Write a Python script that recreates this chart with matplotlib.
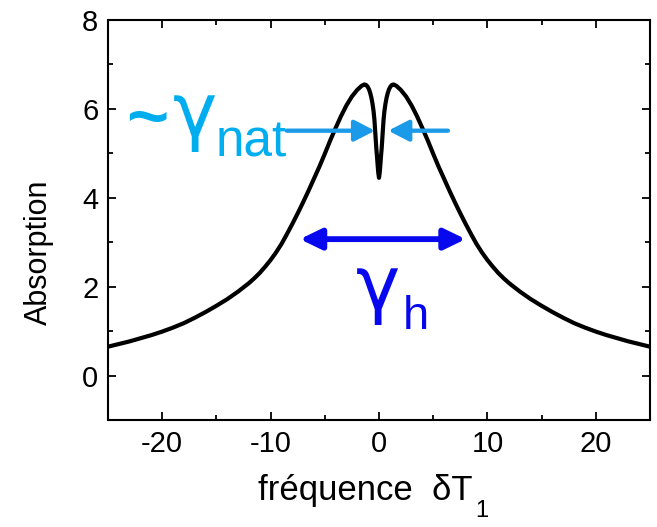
import numpy as np
import matplotlib.pyplot as plt

# Absorption profile (hole burnt at the centre) ────────────────────────────────────
x_right = [0.0, 0.06, 0.12, 0.18, 0.25, 0.33, 0.42, 0.5, 0.6, 0.7, 0.8, 0.92,
           1.05, 1.2, 1.35, 1.6, 2.0, 2.5, 3.0, 3.5, 4.0, 4.5, 5.0, 5.5, 6.0,
           6.5, 7.0, 7.5, 8.0, 8.5, 9.0, 9.5, 10.0, 10.5, 11.0, 11.5, 12.0,
           13.0, 14.0, 15.0, 16.0, 17.0, 18.0, 19.0, 20.0, 21.0, 22.0, 23.0,
           24.0, 25.0]
y_right = [4.45, 4.55, 4.72, 4.92, 5.12, 5.42, 5.75, 5.95, 6.12, 6.25, 6.35,
           6.44, 6.50, 6.54, 6.55, 6.52, 6.43, 6.28, 6.08, 5.84, 5.57, 5.29,
           4.99, 4.70, 4.43, 4.16, 3.90, 3.65, 3.41, 3.18, 2.96, 2.77, 2.60,
           2.45, 2.31, 2.19, 2.08, 1.89, 1.72, 1.57, 1.43, 1.30, 1.18, 1.08,
           0.99, 0.91, 0.84, 0.77, 0.71, 0.65]

freq = [-v for v in x_right[:0:-1]] + x_right
absorption = y_right[:0:-1] + y_right

# arrows (data units)
nat_left = (-8.5, -0.37)
nat_right = (6.36, 0.86)
nat_y = 5.51
h_span = (-7.3, 8.0)
h_y = 3.07

x_ticks = [-20, -10, 0, 10, 20]
y_ticks = [0, 2, 4, 6, 8]

c_light = "#00aeef"
c_light_arrow = "#1a9ae8"
c_blue = "#0808ee"

plt.rcParams["font.family"] = ["Liberation Sans", "DejaVu Sans"]
plt.rcParams["axes.unicode_minus"] = False

fig = plt.figure(figsize=(6.57, 5.27), dpi=100)
ax = fig.add_axes([0.1644, 0.2030, 0.8249, 0.7590])

ax.plot(freq, absorption, color="black", lw=3.0, solid_joinstyle="round")

ax.set_xlim(-25, 25)
ax.set_ylim(-1, 8)
ax.set_xticks(x_ticks)
ax.set_yticks(y_ticks)
ax.set_xticks([-15, -5, 5, 15], minor=True)
ax.set_yticks([-1, 1, 3, 5, 7], minor=True)
ax.tick_params(which="both", direction="in", top=True, right=True,
               width=1.3, labelsize=21)
ax.tick_params(which="major", length=6, pad=7)
ax.tick_params(which="minor", length=3.5)
for s in ax.spines.values():
    s.set_linewidth(1.5)

ax.set_ylabel("Absorption", fontsize=22)
ax.yaxis.set_label_coords(-0.10, 0.42)
ax.set_xlabel("fréquence  δT", fontsize=25)
ax.xaxis.set_label_coords(0.474, -0.135)
ax.annotate("1", xy=(1.0, 0.0), xycoords=ax.xaxis.label,
            xytext=(2, 5), textcoords="offset points",
            ha="left", va="top", fontsize=17)

# ~γnat label and arrows
ax.text(-23.3, 5.30, "~", color=c_light, fontsize=52, fontweight="bold",
        ha="left", va="baseline")
ax.text(-19.0, 5.40, "γ", color=c_light, fontsize=54, family=["DejaVu Sans"],
        ha="left", va="baseline")
ax.text(-15.1, 4.94, "nat", color=c_light, fontsize=37, ha="left", va="baseline")

style = "-|>,head_length=0.62,head_width=0.32"
ax.annotate("", xy=(nat_left[1], nat_y), xytext=(nat_left[0], nat_y),
            arrowprops=dict(arrowstyle=style, color=c_light_arrow, lw=3.1,
                            mutation_scale=20, shrinkA=0, shrinkB=0))
ax.annotate("", xy=(nat_right[1], nat_y), xytext=(nat_right[0], nat_y),
            arrowprops=dict(arrowstyle=style, color=c_light_arrow, lw=3.1,
                            mutation_scale=20, shrinkA=0, shrinkB=0))

# γh label and double arrow
ax.annotate("", xy=(h_span[1], h_y), xytext=(h_span[0], h_y),
            arrowprops=dict(arrowstyle="<|-|>,head_length=0.64,head_width=0.31",
                            color=c_blue, lw=4.2, mutation_scale=20,
                            shrinkA=0, shrinkB=0))
ax.text(-2.1, 1.50, "γ", color=c_blue, fontsize=54, family=["DejaVu Sans"],
        ha="left", va="baseline")
ax.text(2.2, 1.04, "h", color=c_blue, fontsize=34, ha="left", va="baseline")

fig.savefig("out.png", dpi=100)
